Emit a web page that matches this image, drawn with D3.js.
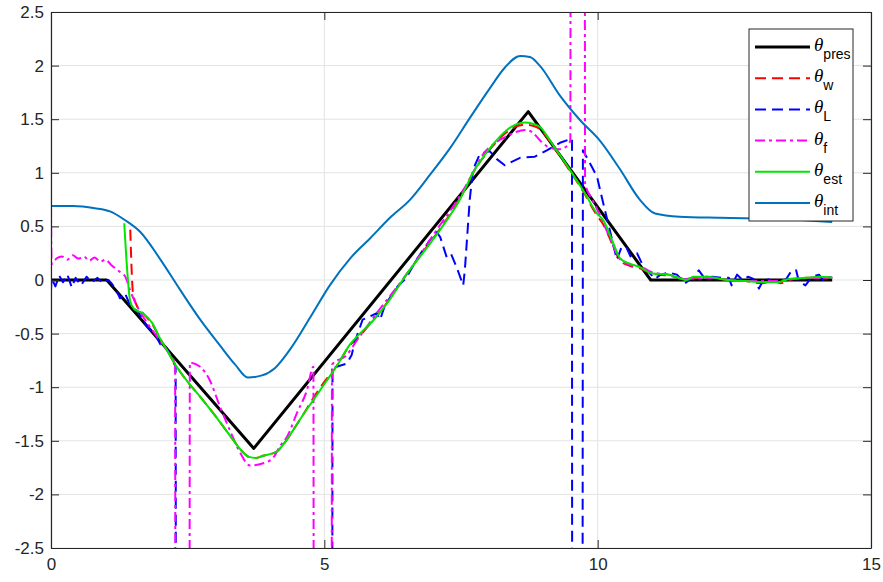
<!DOCTYPE html>
<meta charset="utf-8">
<script src="https://cdn.jsdelivr.net/npm/d3@7"></script>
<style>
    body { margin: 0; background: #fff; }
    .tick text { font-family: "Liberation Sans", Arial, sans-serif; font-size: 17px; fill: #262626; }
</style>
<div id="my_dataviz"></div>
<script>
    // tick values
    var xTicks = [0, 5, 10, 15];
    var yTicks = [-2.5, -2, -1.5, -1, -0.5, 0, 0.5, 1, 1.5, 2, 2.5];

    // legend labels (subscripts of theta)
    var labels = ["pres", "w", "L", "f", "est", "int"];

    // [time, angle]
    var thetaPres = [[0, 0], [1.02, 0], [3.71, -1.571], [8.73, 1.571], [10.97, 0], [14.29, 0]];

    var thetaW = [[1.45, 0.47], [1.5, -0.12], [1.58, -0.25], [1.7, -0.32], [1.85, -0.41], [2.0, -0.55],
        [2.15, -0.68], [2.3, -0.81], [2.5, -0.95], [2.73, -1.09], [3.04, -1.29], [3.33, -1.49], [3.5, -1.6],
        [3.62, -1.65], [3.75, -1.66], [3.88, -1.64], [4.13, -1.6], [4.3, -1.5], [4.43, -1.4], [4.62, -1.25],
        [4.8, -1.1], [5.0, -0.95], [5.23, -0.8], [5.45, -0.62], [5.65, -0.52], [5.9, -0.37], [6.05, -0.28],
        [6.2, -0.17], [6.5, 0.05], [6.8, 0.26], [7.12, 0.48], [7.48, 0.76], [7.72, 1.0], [8.03, 1.22],
        [8.34, 1.38], [8.5, 1.43], [8.67, 1.45], [8.8, 1.44], [8.94, 1.41], [9.18, 1.25], [9.49, 1.02],
        [9.73, 0.83], [9.99, 0.6], [10.1, 0.52], [10.28, 0.32], [10.41, 0.18], [10.6, 0.13], [10.77, 0.11],
        [11.0, 0.06], [11.3, 0.04], [11.63, 0.01], [11.75, 0.02], [12.0, 0.03], [12.37, 0.0], [12.7, -0.01],
        [13.0, -0.03], [13.2, -0.01], [13.35, -0.03], [13.5, 0.0], [13.8, 0.02], [14.07, 0.02], [14.29, 0.02]];

    var thetaL = [[0, -0.1], [0.01, 0.02], [0.08, -0.06], [0.15, 0.04], [0.22, -0.02], [0.3, 0.05],
        [0.38, -0.07], [0.45, 0.02], [0.55, -0.05], [0.65, 0.03], [0.75, -0.02], [0.85, 0.02], [0.95, -0.03],
        [1.05, 0.0], [1.12, -0.04], [1.2, -0.1], [1.26, -0.17], [1.35, -0.12], [1.45, -0.24], [1.6, -0.3],
        [1.75, -0.43], [1.9, -0.5], [2.0, -0.6], [2.1, -0.62], [2.2, -0.72], [2.28, -0.81], [2.29, -6],
        [5.14, -6], [5.15, -0.82], [5.41, -0.78], [5.5, -0.7], [5.55, -0.59], [5.7, -0.37], [5.96, -0.31],
        [6.02, -0.37], [6.1, -0.25], [6.3, -0.08], [6.5, 0.02], [6.7, 0.2], [6.9, 0.35], [7.05, 0.45],
        [7.12, 0.4], [7.24, 0.21], [7.32, 0.24], [7.42, 0.12], [7.54, -0.05], [7.57, 0.09], [7.66, 0.75],
        [7.72, 1.03], [7.85, 1.18], [8.03, 1.2], [8.15, 1.13], [8.3, 1.07], [8.58, 1.14], [8.85, 1.15],
        [9.07, 1.21], [9.31, 1.28], [9.53, 1.32], [9.535, -6], [9.72, -6], [9.73, 1.21], [9.91, 1.04],
        [9.99, 0.96], [10.1, 0.72], [10.22, 0.47], [10.35, 0.19], [10.44, 0.31], [10.53, 0.3], [10.6, 0.22],
        [10.72, 0.25], [10.85, 0.11], [10.96, 0.06], [11.05, 0.01], [11.15, 0.05], [11.3, 0.07], [11.45, 0.05],
        [11.6, -0.03], [11.75, 0.03], [11.85, 0.09], [11.95, 0.02], [12.1, 0.03], [12.3, 0.02], [12.4, 0.02],
        [12.45, -0.05], [12.55, 0.05], [12.65, 0.0], [12.75, 0.03], [12.85, 0.01], [12.95, -0.08], [13.05, 0.02],
        [13.2, -0.01], [13.35, -0.02], [13.45, 0.01], [13.55, 0.09], [13.63, 0.09], [13.68, -0.01], [13.8, -0.05],
        [13.92, 0.03], [14.05, 0.05], [14.12, 0.0], [14.2, 0.03], [14.29, 0.02]];

    var thetaF = [[0, 0.69], [0.01, 0.15], [0.1, 0.2], [0.2, 0.22], [0.3, 0.19], [0.4, 0.23], [0.5, 0.2],
        [0.6, 0.22], [0.7, 0.18], [0.8, 0.21], [0.9, 0.17], [1.0, 0.19], [1.1, 0.14], [1.2, 0.1], [1.3, 0.06],
        [1.35, 0.04], [1.45, -0.1], [1.6, -0.27], [1.8, -0.43], [2.0, -0.57], [2.15, -0.68], [2.27, -0.78],
        [2.28, -6], [2.53, -6], [2.54, -0.77], [2.73, -0.81], [2.9, -0.93], [3.09, -1.18], [3.27, -1.4],
        [3.46, -1.61], [3.64, -1.73], [3.88, -1.71], [4.06, -1.66], [4.19, -1.55], [4.32, -1.46], [4.5, -1.24],
        [4.68, -1.03], [4.8, -0.81], [4.81, -6], [5.13, -6], [5.14, -0.79], [5.41, -0.7], [5.6, -0.56],
        [5.8, -0.42], [6.0, -0.28], [6.2, -0.15], [6.5, 0.05], [6.8, 0.27], [7.1, 0.5], [7.4, 0.72],
        [7.7, 0.98], [7.9, 1.17], [8.1, 1.27], [8.3, 1.33], [8.5, 1.38], [8.67, 1.4], [8.8, 1.38],
        [8.95, 1.3], [9.1, 1.24], [9.3, 1.22], [9.44, 1.25], [9.5, 1.3], [9.51, 6], [9.76, 6], [9.77, 0.9],
        [9.9, 0.75], [10.0, 0.65], [10.2, 0.42], [10.4, 0.2], [10.6, 0.14], [10.8, 0.12], [11.0, 0.07],
        [11.3, 0.05], [11.6, 0.01], [12.0, 0.02], [12.4, 0.0], [12.8, -0.01], [13.2, -0.01], [13.6, 0.01],
        [14.0, 0.02], [14.29, 0.02]];

    var thetaEst = [[1.34, 0.53], [1.45, -0.2], [1.52, -0.27], [1.68, -0.31], [1.85, -0.4], [2.0, -0.55],
        [2.15, -0.68], [2.3, -0.81], [2.5, -0.95], [2.73, -1.09], [3.04, -1.29], [3.33, -1.49], [3.5, -1.6],
        [3.62, -1.65], [3.75, -1.66], [3.88, -1.64], [4.13, -1.6], [4.3, -1.5], [4.43, -1.4], [4.62, -1.25],
        [4.8, -1.12], [5.0, -0.97], [5.23, -0.8], [5.47, -0.6], [5.65, -0.5], [5.89, -0.38], [6.02, -0.3],
        [6.2, -0.18], [6.5, 0.05], [6.8, 0.25], [7.12, 0.47], [7.48, 0.75], [7.72, 1.0], [8.03, 1.23],
        [8.34, 1.4], [8.5, 1.45], [8.67, 1.47], [8.8, 1.46], [8.94, 1.43], [9.18, 1.26], [9.49, 1.03],
        [9.73, 0.84], [9.99, 0.62], [10.1, 0.56], [10.28, 0.35], [10.41, 0.2], [10.6, 0.15], [10.77, 0.12],
        [11.0, 0.06], [11.3, 0.05], [11.63, 0.0], [11.75, 0.03], [12.0, 0.03], [12.37, 0.0], [12.7, -0.01],
        [13.0, -0.02], [13.3, -0.02], [13.5, 0.01], [13.8, 0.02], [14.07, 0.03], [14.29, 0.02]];

    var thetaInt = [[0, 0.69], [0.4, 0.69], [0.8, 0.67], [1.08, 0.64], [1.35, 0.56], [1.63, 0.45],
        [1.99, 0.2], [2.36, -0.09], [2.73, -0.37], [3.09, -0.61], [3.37, -0.79], [3.6, -0.91], [3.86, -0.89],
        [4.1, -0.82], [4.37, -0.65], [4.74, -0.35], [5.1, -0.05], [5.47, 0.2], [5.84, 0.39], [6.2, 0.58],
        [6.57, 0.75], [6.93, 0.98], [7.3, 1.23], [7.66, 1.51], [8.03, 1.79], [8.3, 1.98], [8.58, 2.09],
        [8.76, 2.08], [8.94, 2.0], [9.31, 1.72], [9.68, 1.49], [10.04, 1.3], [10.4, 1.04], [10.77, 0.75],
        [11.05, 0.62], [11.5, 0.59], [12.24, 0.58], [13.33, 0.57], [14.29, 0.54]];

    var margin = {top: 12, right: 12, bottom: 34, left: 51},
        width = 883 - margin.left - margin.right,
        height = 582 - margin.top - margin.bottom;

    var svg = d3.select("#my_dataviz")
        .append("svg")
        .attr("width", 883)
        .attr("height", 582)
        .append("g")
        .attr("transform", "translate(" + margin.left + "," + margin.top + ")");

    var x = d3.scaleLinear().domain([0, 15]).range([0, width]);
    var y = d3.scaleLinear().domain([-2.5, 2.5]).range([height, 0]);

    // grid
    svg.append("g")
        .selectAll("line.gx")
        .data(xTicks)
        .enter().append("line")
        .attr("x1", function(d) { return x(d); })
        .attr("x2", function(d) { return x(d); })
        .attr("y1", 0).attr("y2", height)
        .style("stroke", "#e3e3e3");
    svg.append("g")
        .selectAll("line.gy")
        .data(yTicks)
        .enter().append("line")
        .attr("y1", function(d) { return y(d); })
        .attr("y2", function(d) { return y(d); })
        .attr("x1", 0).attr("x2", width)
        .style("stroke", "#e3e3e3");

    // lines
    svg.append("clipPath").attr("id", "clip")
        .append("rect").attr("width", width).attr("height", height);

    var series = [
        {data: thetaPres, color: "#000000", w: 3, dash: null, curve: d3.curveLinear},
        {data: thetaW, color: "#ff0000", w: 2, dash: "11,6", curve: d3.curveMonotoneX},
        {data: thetaL, color: "#0000ff", w: 2, dash: "11,6", curve: d3.curveLinear},
        {data: thetaF, color: "#ff00ff", w: 2, dash: "10,4,3,4", curve: d3.curveMonotoneX},
        {data: thetaEst, color: "#00e600", w: 2, dash: null, curve: d3.curveMonotoneX},
        {data: thetaInt, color: "#0072bd", w: 2, dash: null, curve: d3.curveMonotoneX}
    ];

    var plot = svg.append("g").attr("clip-path", "url(#clip)");
    series.forEach(function(s) {
        var line = d3.line()
            .curve(s.curve)
            .x(function(d) { return x(d[0]); })
            .y(function(d) { return y(d[1]); });
        plot.append("path")
            .datum(s.data)
            .attr("d", line)
            .style("fill", "none")
            .style("stroke", s.color)
            .style("stroke-width", s.w)
            .style("stroke-linejoin", "round")
            .style("stroke-dasharray", s.dash);
    });

    // axes with inward ticks, box on
    var fmt = function(d) { return String(d); };
    var gx = svg.append("g")
        .attr("transform", "translate(0," + height + ")")
        .call(d3.axisBottom(x).tickValues(xTicks).tickFormat(fmt).tickSizeInner(-8).tickSizeOuter(0).tickPadding(10));
    var gy = svg.append("g")
        .call(d3.axisLeft(y).tickValues(yTicks).tickFormat(fmt).tickSizeInner(-8).tickSizeOuter(0).tickPadding(7));
    var gt = svg.append("g")
        .call(d3.axisTop(x).tickValues(xTicks).tickFormat("").tickSizeInner(-8).tickSizeOuter(0));
    var gr = svg.append("g")
        .attr("transform", "translate(" + width + ",0)")
        .call(d3.axisRight(y).tickValues(yTicks).tickFormat("").tickSizeInner(-8).tickSizeOuter(0));
    [gx, gy, gt, gr].forEach(function(g) {
        g.selectAll("path, line").style("stroke", "#262626");
        g.select(".domain").style("stroke-width", 1.2);
    });

    // legend
    var lx = 749 - margin.left, ly = 29 - margin.top;
    var legend = svg.append("g").attr("transform", "translate(" + lx + "," + ly + ")");
    legend.append("rect")
        .attr("width", 104).attr("height", 192)
        .style("fill", "#fff").style("stroke", "#262626").style("stroke-width", 1);
    series.forEach(function(s, i) {
        var yy = 18 + i * 31.2;
        legend.append("line")
            .attr("x1", 6).attr("x2", 61).attr("y1", yy).attr("y2", yy)
            .style("stroke", s.color).style("stroke-width", s.w)
            .style("stroke-dasharray", s.dash);
        var t = legend.append("text")
            .attr("x", 65).attr("y", yy + 4)
            .style("font-family", "Liberation Sans, Arial, sans-serif")
            .style("fill", "#000");
        t.append("tspan")
            .style("font-family", "Liberation Serif, serif")
            .style("font-style", "italic")
            .style("font-size", "19px")
            .text("θ");
        t.append("tspan")
            .attr("dy", 8)
            .style("font-size", "14px")
            .text(labels[i]);
    });
</script>
